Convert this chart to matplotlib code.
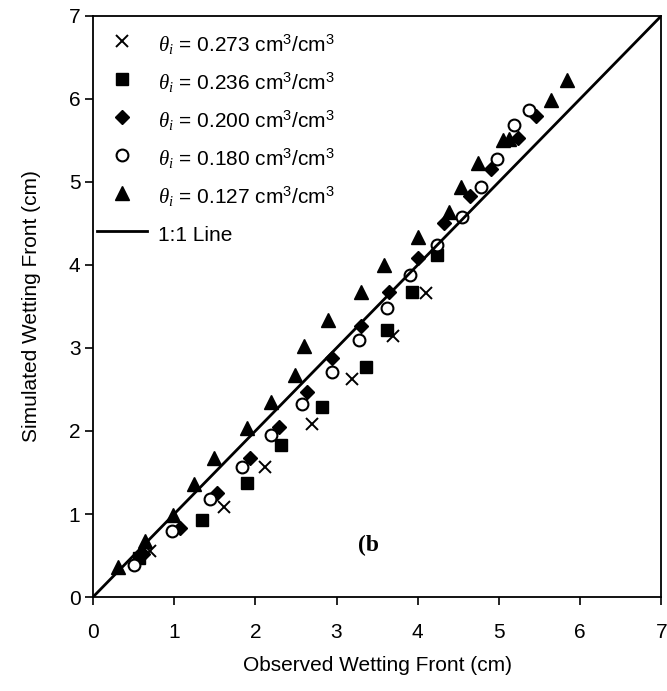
import matplotlib
matplotlib.use("Agg")
import matplotlib.pyplot as plt
from matplotlib import font_manager

# ---- data ----
x_273 = [0.70, 1.61, 2.12, 2.70, 3.19, 3.69, 4.10]
y_273 = [0.55, 1.08, 1.57, 2.09, 2.63, 3.14, 3.66]

x_236 = [0.57, 1.34, 1.90, 2.31, 2.82, 3.36, 3.62, 3.93, 4.24]
y_236 = [0.47, 0.93, 1.37, 1.83, 2.29, 2.77, 3.22, 3.68, 4.12]

x_200 = [0.62, 1.07, 1.53, 1.94, 2.29, 2.64, 2.95, 3.30, 3.65, 4.00, 4.32, 4.65, 4.90, 5.23, 5.46]
y_200 = [0.52, 0.83, 1.25, 1.67, 2.05, 2.47, 2.88, 3.26, 3.68, 4.08, 4.50, 4.83, 5.16, 5.53, 5.79]

x_180 = [0.50, 0.97, 1.44, 1.84, 2.19, 2.58, 2.95, 3.28, 3.62, 3.91, 4.24, 4.55, 4.78, 4.98, 5.19, 5.37]
y_180 = [0.39, 0.79, 1.18, 1.57, 1.95, 2.33, 2.71, 3.10, 3.48, 3.88, 4.24, 4.58, 4.94, 5.28, 5.69, 5.87]

x_127 = [0.31, 0.64, 0.99, 1.24, 1.49, 1.90, 2.19, 2.49, 2.60, 2.89, 3.30, 3.58, 4.00, 4.39,
         4.53, 4.74, 5.05, 5.13, 5.64, 5.84]
y_127 = [0.36, 0.67, 0.99, 1.36, 1.68, 2.03, 2.35, 2.68, 3.02, 3.34, 3.68, 4.00, 4.34, 4.64,
         4.94, 5.23, 5.50, 5.52, 5.99, 6.23]

line_11 = [0, 7]
ticks = [0, 1, 2, 3, 4, 5, 6, 7]
labels = ["$\\theta_i$ = 0.273 cm$^3$/cm$^3$",
          "$\\theta_i$ = 0.236 cm$^3$/cm$^3$",
          "$\\theta_i$ = 0.200 cm$^3$/cm$^3$",
          "$\\theta_i$ = 0.180 cm$^3$/cm$^3$",
          "$\\theta_i$ = 0.127 cm$^3$/cm$^3$",
          "1:1 Line"]

names = {f.name for f in font_manager.fontManager.ttflist}
fam = "Liberation Sans Narrow" if "Liberation Sans Narrow" in names else "Liberation Sans"
plt.rcParams['font.family'] = [fam, 'DejaVu Sans']
plt.rcParams['mathtext.fontset'] = 'custom'
plt.rcParams['mathtext.rm'] = 'Liberation Sans'
plt.rcParams['mathtext.it'] = 'Liberation Serif:italic'

fig = plt.figure(figsize=(6.67, 6.91), dpi=100)
ax = fig.add_axes([0.1394, 0.136, 0.852, 0.841])

ax.plot(x_273, y_273, linestyle='none', marker='x', ms=8, mew=1.4, color='black', label=labels[0])
ax.plot(x_236, y_236, linestyle='none', marker='s', ms=8.5, color='black', label=labels[1])
ax.plot(x_200, y_200, linestyle='none', marker='D', ms=7.5, color='black', label=labels[2])
ax.plot(x_180, y_180, linestyle='none', marker='o', ms=8.5, mfc='white', mec='black', mew=1.5, label=labels[3])
ax.plot(x_127, y_127, linestyle='none', marker='^', ms=10, color='black', label=labels[4])
ax.plot(line_11, line_11, color='black', lw=2, label=labels[5])

ax.set_xlim(0, 7)
ax.set_ylim(0, 7)
ax.set_xticks(ticks)
ax.set_yticks(ticks)
ax.tick_params(direction='out', length=6, width=1.2, labelsize=15)
ax.tick_params(axis='x', pad=13)
ax.tick_params(axis='y', pad=3)
for s in ax.spines.values():
    s.set_linewidth(1.3)

ax.set_xlabel("Observed Wetting Front (cm)", fontsize=15, family='Liberation Sans', labelpad=10)
ax.set_ylabel("Simulated Wetting Front (cm)", fontsize=15, family='Liberation Sans', labelpad=20)

ax.text(3.27, 0.55, "(b", fontsize=17, fontweight='bold', family='Liberation Serif')

leg = ax.legend(loc='upper left', bbox_to_anchor=(-0.004, 0.9845), frameon=False,
                labelspacing=0.54, handleheight=1.6,
                handlelength=2.4, handletextpad=0.55, borderaxespad=0.0,
                borderpad=0.3, prop={'family': 'Liberation Sans', 'size': 15})

fig.savefig("out.png", dpi=100)
